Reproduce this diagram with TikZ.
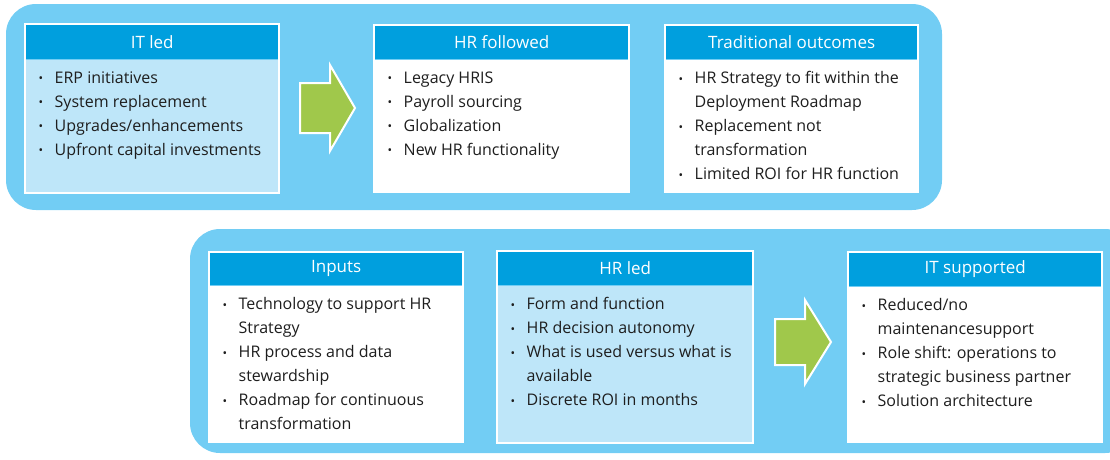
\documentclass[tikz,border=0pt]{standalone}
\usepackage{fontspec}
\setmainfont{Open Sans}
\definecolor{panel}{RGB}{114,205,244}
\definecolor{hdrblue}{RGB}{0,159,222}
\definecolor{lbox}{RGB}{190,230,249}
\definecolor{grn}{RGB}{160,200,75}
\definecolor{txtc}{RGB}{30,30,30}
\newcommand{\bl}[1]{\makebox[16pt][l]{\raisebox{0.5pt}{\fontsize{12}{12}\selectfont •}}#1}
\newcommand{\cl}[1]{\hspace*{16pt}#1}
\newcommand{\infobox}[9]{%
  \node[hdrbox, minimum width=#4pt, minimum height=#5pt] (#1h) at (#2,#3) {#7};
  \node[bodybox, fill=#8, minimum width=#4pt, minimum height=#6pt] (#1b) at (#1h.south west) {};
  \draw[frame] (#1h.north west) rectangle (#1b.south east);
  \node[bodytext] (#1t) at ([xshift=13.5pt,yshift=-12pt]#1b.north west) {#9};
}
\begin{document}
\begin{tikzpicture}[x=1pt,y=-1pt,
  panelbg/.style={fill=panel, rounded corners=30pt},
  hdrbox/.style={fill=hdrblue, text=white, inner sep=0pt, anchor=north west, font=\fontsize{17}{20}\selectfont},
  bodybox/.style={inner sep=0pt, anchor=north west},
  frame/.style={draw=white, line width=2pt},
  bodytext/.style={anchor=north west, inner sep=0pt, align=left, text=txtc, font=\fontsize{16}{24}\selectfont},
  bigarrow/.style={fill=grn, draw=white, line width=2pt, line join=miter}
]
\useasboundingbox (0,0) rectangle (1110,459);
\fill[panelbg] (6,4) rectangle (942,210);
\fill[panelbg] (190,229) rectangle (1135,453);

\infobox{itled}{25}{24}{254}{35}{133}{IT led}{lbox}{\bl{ERP initiatives}\\\bl{System replacement}\\\bl{Upgrades/enhancements}\\\bl{Upfront capital investments}}
\infobox{hrf}{374}{25}{255}{34}{132}{HR followed}{white}{\bl{Legacy HRIS}\\\bl{Payroll sourcing}\\\bl{Globalization}\\\bl{New HR functionality}}
\infobox{trad}{665}{25}{253}{34}{132}{Traditional outcomes}{white}{\bl{HR Strategy to fit within the}\\\cl{Deployment Roadmap}\\\bl{Replacement not}\\\cl{transformation}\\\bl{Limited ROI for HR function}}
\infobox{inp}{209}{252}{254}{33}{156}{Inputs}{white}{\bl{Technology to support HR}\\\cl{Strategy}\\\bl{HR process and data}\\\cl{stewardship}\\\bl{Roadmap for continuous}\\\cl{transformation}}
\infobox{hrled}{497}{251}{256}{34}{157}{HR led}{lbox}{\bl{Form and function}\\\bl{HR decision autonomy}\\\bl{What is used versus what is}\\\cl{available}\\\bl{Discrete ROI in months}}
\infobox{itsup}{848}{252}{254}{34}{155}{IT supported}{white}{\bl{Reduced/no}\\\cl{maintenancesupport}\\\bl{Role shift: operations to}\\\cl{strategic business partner}\\\bl{Solution architecture}}

\draw[bigarrow] (300,83) -- (330,83) -- (330,65) -- (355,108) -- (330,151) -- (330,133) -- (300,133) -- cycle;
\draw[bigarrow] (775,319) -- (805,319) -- (805,300) -- (831,342) -- (805,384) -- (805,365) -- (775,365) -- cycle;
\end{tikzpicture}
\end{document}
